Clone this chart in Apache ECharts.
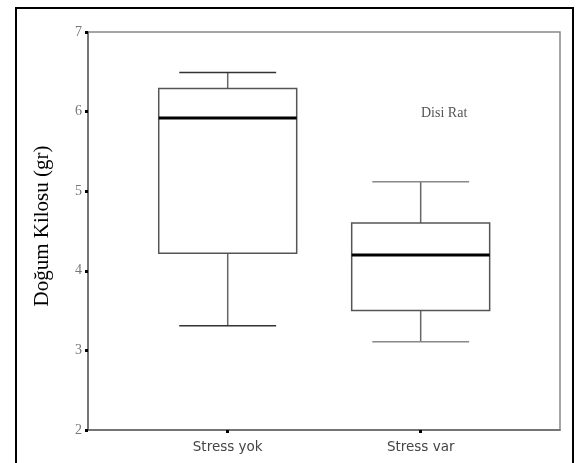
<!DOCTYPE html>
<html>
<head>
<meta charset="utf-8">
<script src="https://cdn.jsdelivr.net/npm/echarts@6/dist/echarts.min.js"></script>
<style>
html,body{margin:0;padding:0;background:#fff;}
#chart{width:577px;height:463px;}
</style>
</head>
<body>
<div id="chart"></div>
<script>
// ---- data ----
var categories = ['Stress yok', 'Stress var'];
var minVals    = [3.31, 3.11];
var q1Vals     = [4.22, 3.50];
var medianVals = [5.92, 4.20];
var q3Vals     = [6.29, 4.60];
var maxVals    = [6.49, 5.12];
var yTicks     = [2, 3, 4, 5, 6, 7];
var annotation = 'Disi Rat';
var yTitle     = 'Doğum Kilosu (gr)';

// ---- styles ----
var BOX_HALF = 0.3575;   // in x-axis units
var CAP_HALF = 0.251;
var capColors = ['#333', '#888'];

var seriesData = categories.map(function (c, i) {
  return [i, minVals[i], q1Vals[i], medianVals[i], q3Vals[i], maxVals[i]];
});

function renderItem(params, api) {
  var x = api.value(0);
  var vmin = api.value(1), q1 = api.value(2), med = api.value(3), q3 = api.value(4), vmax = api.value(5);
  var L = api.coord([x - BOX_HALF, q3]);
  var R = api.coord([x + BOX_HALF, q1]);
  var pMax = api.coord([x, vmax]);
  var pMin = api.coord([x, vmin]);
  var pQ3 = api.coord([x, q3]);
  var pQ1 = api.coord([x, q1]);
  var cL = api.coord([x - CAP_HALF, vmax])[0];
  var cR = api.coord([x + CAP_HALF, vmax])[0];
  var mL = api.coord([x - BOX_HALF, med]);
  var mR = api.coord([x + BOX_HALF, med]);
  var capC = capColors[params.dataIndex % capColors.length];
  return {
    type: 'group',
    children: [
      { type: 'line', shape: { x1: pMax[0], y1: pMax[1], x2: pQ3[0], y2: pQ3[1] }, style: { stroke: '#666', lineWidth: 1.5 } },
      { type: 'line', shape: { x1: pQ1[0], y1: pQ1[1], x2: pMin[0], y2: pMin[1] }, style: { stroke: '#666', lineWidth: 1.5 } },
      { type: 'line', shape: { x1: cL, y1: pMax[1], x2: cR, y2: pMax[1] }, style: { stroke: capC, lineWidth: 1.5 } },
      { type: 'line', shape: { x1: cL, y1: pMin[1], x2: cR, y2: pMin[1] }, style: { stroke: capC, lineWidth: 1.5 } },
      { type: 'rect', shape: { x: L[0], y: L[1], width: R[0] - L[0], height: R[1] - L[1] }, style: { fill: 'none', stroke: '#555', lineWidth: 1.5 } },
      { type: 'line', shape: { x1: mL[0], y1: mL[1], x2: mR[0], y2: mR[1] }, style: { stroke: '#000', lineWidth: 3 } }
    ]
  };
}

var chart = echarts.init(document.getElementById('chart'), null, { renderer: 'canvas' });
chart.setOption({
  animation: false,
  backgroundColor: '#fff',
  title: {
    text: annotation,
    left: 421,
    top: 106,
    padding: 0,
    textStyle: { fontFamily: 'Liberation Serif', fontSize: 14, fontWeight: 'normal', color: '#555' }
  },
  graphic: [{
    type: 'rect',
    shape: { x: 16, y: 8, width: 557, height: 520 },
    style: { fill: 'none', stroke: '#000', lineWidth: 2 },
    silent: true
  }],
  grid: {
    left: 88, right: 17, top: 32, bottom: 33,
    show: true, borderColor: '#888', borderWidth: 1.5, backgroundColor: 'transparent'
  },
  xAxis: {
    type: 'value',
    min: -0.724,
    max: 1.722,
    splitLine: { show: false },
    axisLine: { show: true, onZero: false, lineStyle: { color: '#666', width: 1.5 } },
    axisTick: { show: true, customValues: [0, 1], length: 3, lineStyle: { color: '#000', width: 3 } },
    axisLabel: {
      customValues: [0, 1],
      formatter: function (v) { return categories[Math.round(v)] || ''; },
      fontFamily: 'DejaVu Sans', fontSize: 13.5, color: '#444', margin: 10
    }
  },
  yAxis: {
    type: 'value',
    min: yTicks[0],
    max: yTicks[yTicks.length - 1],
    interval: 1,
    name: yTitle,
    nameLocation: 'middle',
    nameGap: 35,
    nameTextStyle: { fontFamily: 'Liberation Serif', fontSize: 21, color: '#000', padding: [0, 0, 0, 10] },
    splitLine: { show: false },
    axisLine: { show: true, onZero: false, lineStyle: { color: '#666', width: 1.5 } },
    axisTick: { show: true, length: 3, lineStyle: { color: '#000', width: 3 } },
    axisLabel: { fontFamily: 'Liberation Serif', fontSize: 14, color: '#777', margin: 6 }
  },
  series: [{
    type: 'custom',
    renderItem: renderItem,
    data: seriesData,
    encode: { x: 0, y: [1, 2, 3, 4, 5] },
    clip: false
  }]
});
</script>
</body>
</html>
